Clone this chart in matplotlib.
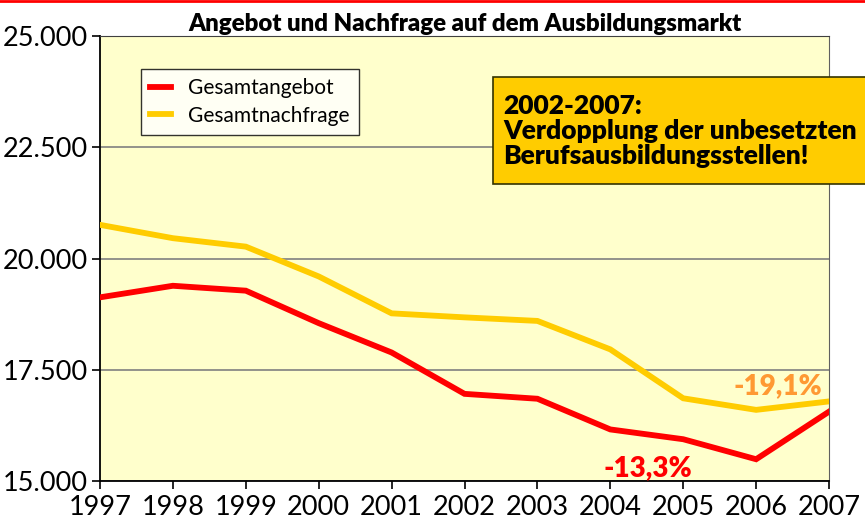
import numpy as np
import matplotlib.pyplot as plt
from matplotlib.ticker import FuncFormatter
from matplotlib.patches import Rectangle

plt.rcParams['font.family'] = ['Lato', 'DejaVu Sans']

years = [1997, 1998, 1999, 2000, 2001, 2002, 2003, 2004, 2005, 2006, 2007]
angebot = [19130, 19390, 19280, 18550, 17890, 16960, 16850, 16160, 15940, 15490, 16560]
nachfrage = [20760, 20460, 20270, 19600, 18770, 18680, 18600, 17960, 16860, 16600, 16790]
yticks = [15000, 17500, 20000, 22500, 25000]

fig = plt.figure(figsize=(8.65, 5.24), dpi=100)
ax = fig.add_axes([0.1156, 0.082, 0.8428, 0.8488])
ax.set_facecolor('#FFFFCC')

ax.plot(years, angebot, color='#FF0000', lw=4.2, label='Gesamtangebot', solid_joinstyle='miter', zorder=3)
ax.plot(years, nachfrage, color='#FFCC00', lw=4.2, label='Gesamtnachfrage', solid_joinstyle='miter', zorder=3)

ax.set_xlim(1997, 2007)
ax.set_ylim(15000, 25000)
ax.set_xticks(years)
ax.set_yticks(yticks)
ax.yaxis.set_major_formatter(FuncFormatter(lambda v, p: f'{int(v):,}'.replace(',', '.')))
ax.grid(axis='y', color='#808080', lw=1.2)
ax.set_axisbelow(True)
ax.tick_params(labelsize=19.5, length=6, width=1.2, direction='out')
ax.tick_params(axis='x', pad=4)
ax.tick_params(axis='y', pad=3)
for s in ['left', 'bottom']:
    ax.spines[s].set_color('black')
    ax.spines[s].set_linewidth(1.3)
ax.spines['top'].set_color('#404040')
ax.spines['right'].set_color('#606060')

ax.set_title('Angebot und Nachfrage auf dem Ausbildungsmarkt', fontsize=17.3, fontweight='heavy', pad=4)

leg = ax.legend(loc='upper left', bbox_to_anchor=(0.042, 0.95), fontsize=15, frameon=True,
                fancybox=False, edgecolor='black', handlelength=1.0, borderpad=0.45,
                labelspacing=0.35, handletextpad=0.8)
leg.get_frame().set_linewidth(1.0)

ax.text(2004.52, 15300, '-13,3%', color='#FF0000', fontsize=20, fontweight='heavy', ha='center', va='center')
ax.text(2006.3, 17140, '-19,1%', color='#FF9933', fontsize=20, fontweight='heavy', ha='center', va='center')

# yellow callout box, runs past the right edge of the axes
box = Rectangle((493 / 865, 1 - 184 / 524), 0.5, 107 / 524, transform=fig.transFigure,
                facecolor='#FFCC00', edgecolor='#333300', lw=1.2, zorder=5)
fig.patches.append(box)
fig.text(503 / 865, 1 - 131 / 524, '2002-2007:\nVerdopplung der unbesetzten\nBerufsausbildungsstellen!',
         fontsize=19, fontweight='heavy', va='center', ha='left', linespacing=1.07, zorder=6)

fig.add_artist(plt.Line2D([0, 1], [0.998, 0.998], color='#FF0000', lw=2, transform=fig.transFigure))

fig.savefig('out.png', dpi=100)
